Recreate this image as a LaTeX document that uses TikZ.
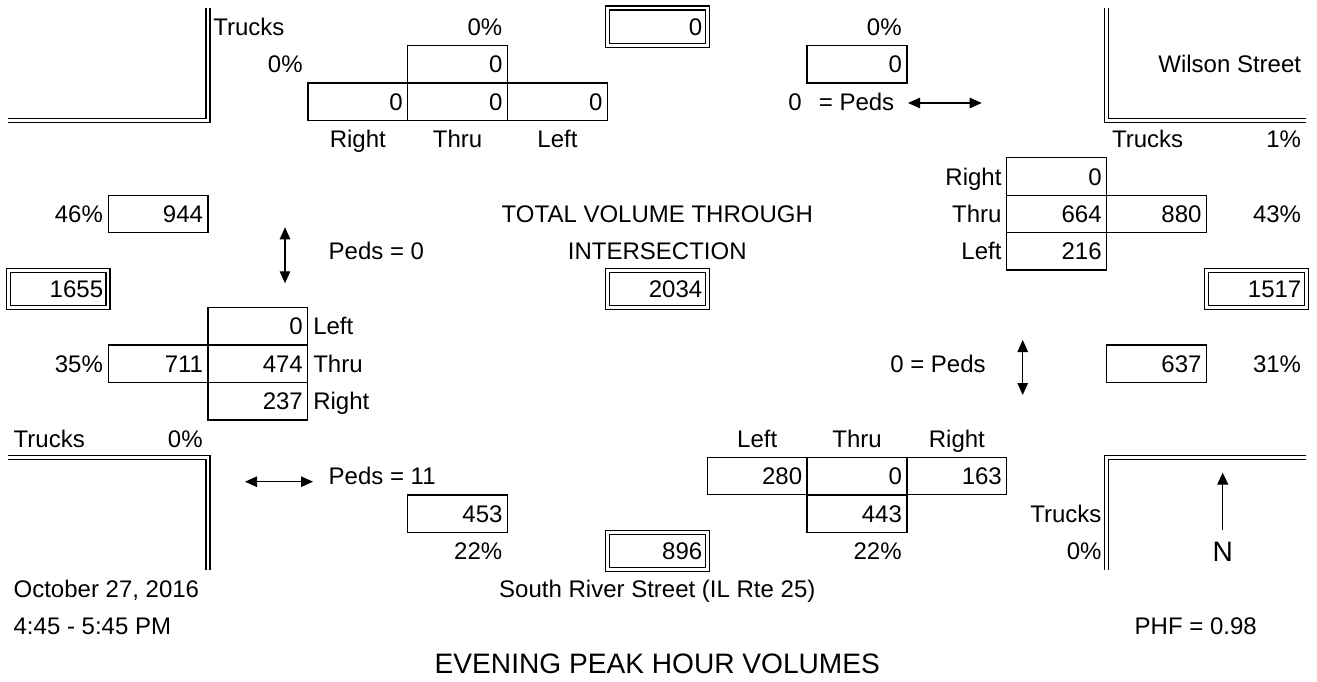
\documentclass[tikz,border=0pt]{standalone}
\usepackage{fontspec}
\setmainfont{Liberation Sans}
\usetikzlibrary{arrows.meta}
\tikzset{
  cell/.style={
    draw, line width=0.026cm,
    minimum height=0.749cm, text width=1.797cm,
    inner xsep=0.1cm, inner ysep=0pt, align=right,
    text height=0.344cm, text depth=0pt
  },
  totbox/.style={cell, double, double distance=0.054cm},
  lbl/.style={inner sep=0pt, text height=0.344cm, text depth=0pt},
  biglbl/.style={lbl, font=\fontsize{16}{19}\selectfont, text height=0.4cm},
  road/.style={line width=0.026cm, double, double distance=0.054cm},
  pedarrow/.style={line width=0.022cm,
    {Triangle[length=0.24cm,width=0.21cm]}-{Triangle[length=0.24cm,width=0.21cm]}},
  northarrow/.style={line width=0.022cm, -{Triangle[length=0.24cm,width=0.22cm]}}
}

\begin{document}
\begin{tikzpicture}[x=0.02cm, y=-0.02cm, font=\fontsize{13.66}{16}\selectfont]
  \useasboundingbox (0,0) rectangle (1317,682);

  % ── Curb lines at the four corners ───────────────────────────────
  \draw[road] (8.3,120.35)   -- (208,120.35)   -- (208,8);
  \draw[road] (1306.4,120.35) -- (1106.7,120.35) -- (1106.7,8);
  \draw[road] (8.3,457.4)    -- (208,457.4)    -- (208,569.75);
  \draw[road] (1306.4,457.4) -- (1106.7,457.4) -- (1106.7,569.75);

  % ── Movement counts ──────────────────────────────────────────────
  \foreach \nm/\x/\y/\val in {
      nTot/457.6/64.2/0, nDep/857.0/64.2/0,
      nR/357.8/101.6/0, nT/457.6/101.6/0, nL/557.5/101.6/0,
      eR/1056.7/176.5/0, eT/1056.7/214.0/664, eL/1056.7/251.4/216,
      eTot/1156.6/214.0/880, eDep/1156.6/363.8/637,
      wDep/158.1/214.0/944, wTot/158.1/363.8/711,
      wL/257.9/326.3/0, wT/257.9/363.8/474, wR/257.9/401.2/237,
      sL/757.2/476.1/280, sT/857.0/476.1/0, sR/956.9/476.1/163,
      sTot/857.0/513.6/443, sDep/457.6/513.6/453}
    { \node[cell] (\nm) at (\x,\y) {\val}; }

  % ── Leg totals and intersection total ────────────────────────────
  \foreach \nm/\x/\y/\val in {
      nSum/657.3/26.7/0, wSum/58.2/288.9/1655, cSum/657.3/288.9/2034,
      eSum/1256.4/288.9/1517, sSum/657.3/551.0/896}
    { \node[totbox] (\nm) at (\x,\y) {\val}; }

  % ── Texts ────────────────────────────────────────────────────────
  \foreach \nm/\x/\y/\anch/\txt in {
      trkN/213/26.7/west/Trucks, pcN/502.6/26.7/east/0\%,
      pcNd/902/26.7/east/0\%, pcNw/303/64.2/east/0\%,
      wilson/1301.4/64.2/east/Wilson Street,
      pedNv/802.1/101.6/east/0, pedNt/818.5/101.6/west/= Peds,
      nRlab/357.8/139.1/center/Right, nTlab/457.6/139.1/center/Thru,
      nLlab/557.5/139.1/center/Left,
      trkE/1111.7/139.1/west/Trucks, pcE/1301.4/139.1/east/1\%,
      eRlab/1001.8/176.5/east/Right, eTlab/1001.8/214.0/east/Thru,
      eLlab/1001.8/251.4/east/Left, pcEt/1301.4/214.0/east/43\%,
      pcWd/103.2/214.0/east/46\%,
      totA/657.3/214.0/center/TOTAL VOLUME THROUGH,
      totB/657.3/251.4/center/INTERSECTION,
      pedW/328.3/251.4/west/Peds = 0,
      wLlab/312.9/326.3/west/Left, wTlab/312.9/363.8/west/Thru,
      wRlab/312.9/401.2/west/Right, pcWt/103.2/363.8/east/35\%,
      pedE/986/363.8/east/0 = Peds, pcEd/1301.4/363.8/east/31\%,
      trkW/13.3/438.7/west/Trucks, pcW/203/438.7/east/0\%,
      sLlab/757.2/438.7/center/Left, sTlab/857.0/438.7/center/Thru,
      sRlab/956.9/438.7/center/Right,
      pedS/328.3/476.1/west/Peds = 11,
      trkS/1101.8/513.6/east/Trucks, pcS/1101.8/551.0/east/0\%,
      pcSd/502.6/551.0/east/22\%, pcSt/902/551.0/east/22\%,
      date/13.3/588.5/west/{October 27, 2016},
      river/657.3/588.5/center/South River Street (IL Rte 25),
      hour/13.3/625.9/west/4:45 - 5:45 PM,
      phf/1134.3/625.9/west/PHF = 0.98}
    { \node[lbl, anchor=\anch] (\nm) at (\x,\y) {\txt}; }

  \node[biglbl] (north) at (1222.7,551.0) {N};
  \node[biglbl] (title) at (657.3,663.4) {EVENING PEAK HOUR VOLUMES};

  % ── Pedestrian arrows and north arrow ────────────────────────────
  \coordinate (pnA) at (908,103);    \coordinate (pnB) at (981.7,103);
  \coordinate (pwA) at (285,227.3);  \coordinate (pwB) at (285,283.3);
  \coordinate (peA) at (1022.7,340); \coordinate (peB) at (1022.7,395);
  \coordinate (psA) at (245,481.7);  \coordinate (psB) at (313,481.7);
  \coordinate (nTail) at (1222.7,530); \coordinate (nTip) at (1222.7,472.7);

  \foreach \a/\b in {pnA/pnB, pwA/pwB, peA/peB, psA/psB}
    { \draw[pedarrow] (\a) -- (\b); }
  \draw[northarrow] (nTail) -- (nTip);
\end{tikzpicture}
\end{document}
